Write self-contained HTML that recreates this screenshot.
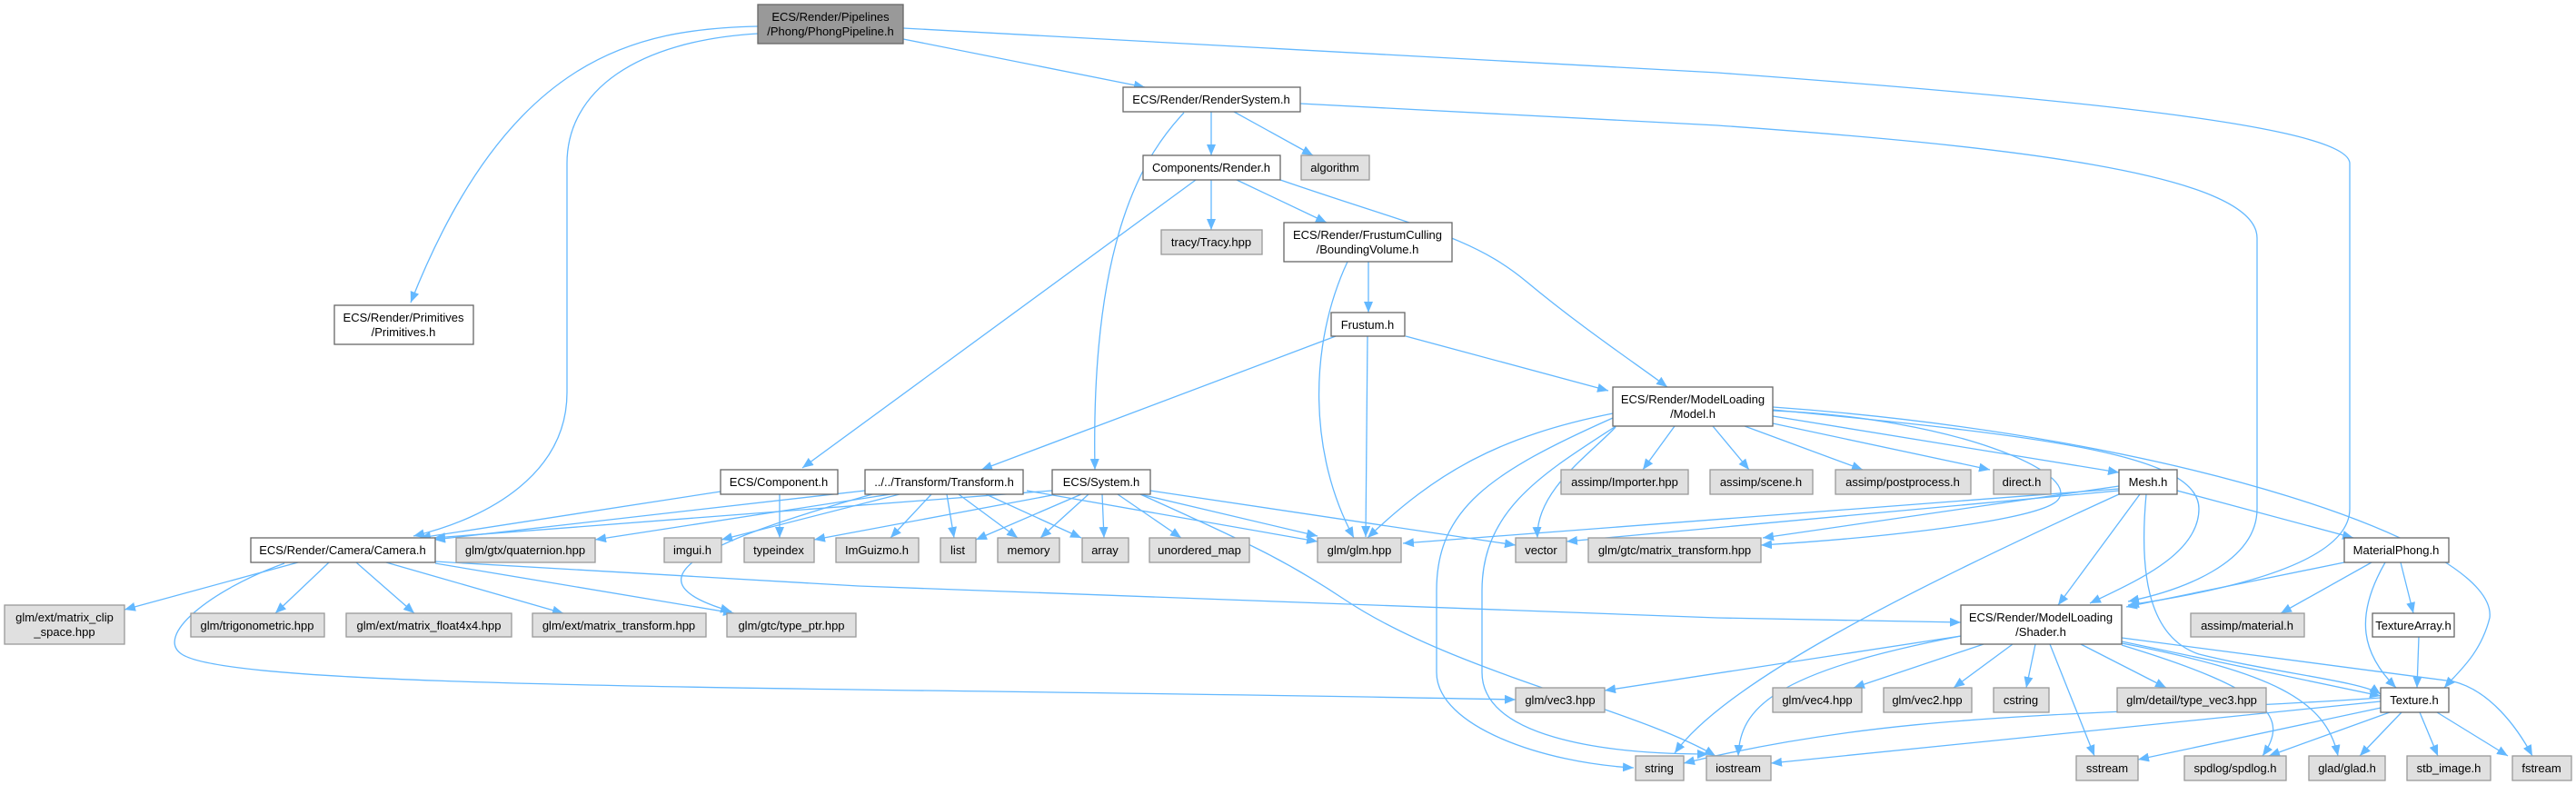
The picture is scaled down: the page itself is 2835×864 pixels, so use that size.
<!DOCTYPE html>
<html><head><meta charset="utf-8"><style>
html,body{margin:0;padding:0;background:#fff;}
svg{display:block;}
text{font-family:"Liberation Sans",Arial,sans-serif;font-size:13px;fill:#000;}
.n rect{stroke:#666;stroke-width:1.3;}
.w{fill:#fff;}
.g{fill:#e0e0e0;stroke:#999 !important;}
.e path{fill:none;stroke:#63b8ff;stroke-width:1.3;marker-end:url(#a);}
</style></head><body>
<svg width="2835" height="864" viewBox="0 0 2835 864" xmlns="http://www.w3.org/2000/svg">
<defs><marker id="a" markerUnits="userSpaceOnUse" markerWidth="14" markerHeight="10" refX="12" refY="5" orient="auto"><path d="M0,0 L12,5 L0,10 z" fill="#63b8ff"/></marker></defs>
<g class="e">
<path d="M834,29 C700,32 560,60 452,333"/>
<path d="M834,37 C700,45 624,100 624,180 L624,432 C624,520 540,570 455,590"/>
<path d="M994,43 L1260,96"/>
<path d="M994,31 L1890,80 C2300,110 2586,140 2586,180 L2586,560 C2586,620 2450,650 2342,666"/>
<path d="M1431,114 L1890,138 C2200,160 2484,190 2484,262 L2484,560 C2484,620 2400,650 2342,662"/>
<path d="M1333,123 L1333,171"/>
<path d="M1358,123 L1445,171"/>
<path d="M1303,124 C1260,170 1200,260 1205,517"/>
<path d="M1333,198 L1333,253"/>
<path d="M1361,198 L1460,245"/>
<path d="M1316,198 L883,515"/>
<path d="M1409,198 C1560,250 1620,260 1680,310 C1740,360 1800,400 1835,426"/>
<path d="M1506,288 L1506,344"/>
<path d="M1483,288 C1440,380 1440,500 1490,592"/>
<path d="M1505,370 L1503,591"/>
<path d="M1470,370 L1080,517"/>
<path d="M1547,370 L1770,430"/>
<path d="M793,541 L462,592"/>
<path d="M858,544 L858,592"/>
<path d="M952,540 L478,594"/>
<path d="M980,544 L655,594"/>
<path d="M990,544 L794,594"/>
<path d="M1025,544 L980,592"/>
<path d="M1042,544 L1050,592"/>
<path d="M1055,544 L1120,592"/>
<path d="M1085,544 L1190,592"/>
<path d="M1130,540 L1450,596"/>
<path d="M960,544 C760,600 690,640 805,673"/>
<path d="M1158,540 L478,592"/>
<path d="M1158,545 L896,594"/>
<path d="M1190,544 L1074,594"/>
<path d="M1198,544 L1145,592"/>
<path d="M1213,544 L1215,592"/>
<path d="M1230,544 L1300,592"/>
<path d="M1255,544 L1450,590"/>
<path d="M1266,540 L1668,600"/>
<path d="M1255,544 C1380,600 1420,620 1480,660 C1600,740 1800,780 1888,832"/>
<path d="M328,619 L137,671"/>
<path d="M362,619 L303,675"/>
<path d="M392,619 L456,675"/>
<path d="M425,619 L620,675"/>
<path d="M479,620 L808,675"/>
<path d="M479,618 L945,645 L1890,680 L2158,685"/>
<path d="M313,620 C230,650 170,700 200,720 C260,760 900,755 1668,770"/>
<path d="M1843,469 L1808,517"/>
<path d="M1885,469 L1925,517"/>
<path d="M1920,469 L2050,517"/>
<path d="M1951,466 L2190,517"/>
<path d="M1951,458 L2332,520"/>
<path d="M1778,470 C1750,500 1690,540 1692,592"/>
<path d="M1775,455 C1650,480 1580,520 1505,592"/>
<path d="M1775,460 C1640,520 1581,560 1581,650 L1581,740 C1581,800 1700,840 1798,845"/>
<path d="M1780,468 C1700,520 1631,560 1631,650 L1631,740 C1631,810 1760,830 1880,830"/>
<path d="M1951,452 C2150,460 2290,520 2265,550 C2250,570 2100,590 1938,600"/>
<path d="M1951,451 C2250,480 2420,500 2420,560 C2420,610 2350,640 2300,664"/>
<path d="M1951,448 C2400,480 2750,600 2740,680 C2730,720 2705,740 2690,757"/>
<path d="M2332,535 L1940,592"/>
<path d="M2332,538 L1544,598"/>
<path d="M2332,540 L1724,596"/>
<path d="M2355,544 L2265,666"/>
<path d="M2396,540 L2590,592"/>
<path d="M2332,544 C2100,650 1900,750 1843,829"/>
<path d="M2362,544 C2355,620 2360,700 2420,720 C2500,740 2600,750 2620,764"/>
<path d="M2580,619 L2340,668"/>
<path d="M2610,619 L2510,675"/>
<path d="M2625,619 C2590,680 2600,720 2637,757"/>
<path d="M2642,619 L2656,675"/>
<path d="M2662,701 L2660,757"/>
<path d="M2158,700 L1766,760"/>
<path d="M2183,709 L2040,757"/>
<path d="M2215,709 L2150,757"/>
<path d="M2240,709 L2230,757"/>
<path d="M2290,709 L2384,757"/>
<path d="M2256,709 L2305,832"/>
<path d="M2335,710 C2500,760 2520,790 2490,832"/>
<path d="M2335,708 C2500,740 2560,770 2573,832"/>
<path d="M2335,706 L2620,766"/>
<path d="M2335,702 L2700,750 C2740,760 2770,800 2787,832"/>
<path d="M2158,700 C1950,740 1915,780 1913,832"/>
<path d="M2620,772 L1949,840"/>
<path d="M2620,768 C2300,790 2100,780 1853,840"/>
<path d="M2625,778 L2353,836"/>
<path d="M2630,784 L2497,832"/>
<path d="M2643,784 L2597,832"/>
<path d="M2663,784 L2683,832"/>
<path d="M2682,784 L2760,832"/>
</g>
<g class="n" text-anchor="middle">
<rect x="834" y="5" width="160" height="43" fill="#999"/><text x="914" y="23">ECS/Render/Pipelines</text><text x="914" y="39">/Phong/PhongPipeline.h</text>
<rect class="w" x="368" y="336" width="153" height="43"/><text x="444" y="354">ECS/Render/Primitives</text><text x="444" y="370">/Primitives.h</text>
<rect class="w" x="1236" y="96" width="195" height="27"/><text x="1333" y="114">ECS/Render/RenderSystem.h</text>
<rect class="w" x="1258" y="171" width="151" height="27"/><text x="1333" y="189">Components/Render.h</text>
<rect class="g" x="1432" y="171" width="75" height="27"/><text x="1469" y="189">algorithm</text>
<rect class="g" x="1278" y="253" width="111" height="27"/><text x="1333" y="271">tracy/Tracy.hpp</text>
<rect class="w" x="1413" y="245" width="185" height="43"/><text x="1505" y="263">ECS/Render/FrustumCulling</text><text x="1505" y="279">/BoundingVolume.h</text>
<rect class="w" x="1465" y="344" width="81" height="26"/><text x="1505" y="362">Frustum.h</text>
<rect class="w" x="1775" y="426" width="176" height="43"/><text x="1863" y="444">ECS/Render/ModelLoading</text><text x="1863" y="460">/Model.h</text>
<rect class="w" x="793" y="517" width="129" height="27"/><text x="857" y="535">ECS/Component.h</text>
<rect class="w" x="952" y="517" width="174" height="27"/><text x="1039" y="535">../../Transform/Transform.h</text>
<rect class="w" x="1158" y="517" width="108" height="27"/><text x="1212" y="535">ECS/System.h</text>
<rect class="g" x="1718" y="517" width="140" height="27"/><text x="1788" y="535">assimp/Importer.hpp</text>
<rect class="g" x="1882" y="517" width="113" height="27"/><text x="1938" y="535">assimp/scene.h</text>
<rect class="g" x="2020" y="517" width="149" height="27"/><text x="2094" y="535">assimp/postprocess.h</text>
<rect class="g" x="2194" y="517" width="63" height="27"/><text x="2225" y="535">direct.h</text>
<rect class="w" x="2332" y="517" width="64" height="27"/><text x="2364" y="535">Mesh.h</text>
<rect class="w" x="276" y="592" width="203" height="27"/><text x="377" y="610">ECS/Render/Camera/Camera.h</text>
<rect class="g" x="502" y="592" width="153" height="27"/><text x="578" y="610">glm/gtx/quaternion.hpp</text>
<rect class="g" x="731" y="592" width="63" height="27"/><text x="762" y="610">imgui.h</text>
<rect class="g" x="819" y="592" width="77" height="27"/><text x="857" y="610">typeindex</text>
<rect class="g" x="920" y="592" width="91" height="27"/><text x="965" y="610">ImGuizmo.h</text>
<rect class="g" x="1035" y="592" width="39" height="27"/><text x="1054" y="610">list</text>
<rect class="g" x="1098" y="592" width="68" height="27"/><text x="1132" y="610">memory</text>
<rect class="g" x="1191" y="592" width="51" height="27"/><text x="1216" y="610">array</text>
<rect class="g" x="1265" y="592" width="110" height="27"/><text x="1320" y="610">unordered_map</text>
<rect class="g" x="1450" y="592" width="92" height="27"/><text x="1496" y="610">glm/glm.hpp</text>
<rect class="g" x="1668" y="592" width="56" height="27"/><text x="1696" y="610">vector</text>
<rect class="g" x="1748" y="592" width="190" height="27"/><text x="1843" y="610">glm/gtc/matrix_transform.hpp</text>
<rect class="w" x="2580" y="592" width="115" height="27"/><text x="2637" y="610">MaterialPhong.h</text>
<rect class="g" x="5" y="666" width="132" height="43"/><text x="71" y="684">glm/ext/matrix_clip</text><text x="71" y="700">_space.hpp</text>
<rect class="g" x="210" y="675" width="147" height="26"/><text x="283" y="693">glm/trigonometric.hpp</text>
<rect class="g" x="381" y="675" width="182" height="26"/><text x="472" y="693">glm/ext/matrix_float4x4.hpp</text>
<rect class="g" x="586" y="675" width="191" height="26"/><text x="681" y="693">glm/ext/matrix_transform.hpp</text>
<rect class="g" x="800" y="675" width="142" height="26"/><text x="871" y="693">glm/gtc/type_ptr.hpp</text>
<rect class="w" x="2158" y="666" width="177" height="43"/><text x="2246" y="684">ECS/Render/ModelLoading</text><text x="2246" y="700">/Shader.h</text>
<rect class="g" x="2411" y="675" width="125" height="26"/><text x="2473" y="693">assimp/material.h</text>
<rect class="w" x="2611" y="675" width="90" height="26"/><text x="2656" y="693">TextureArray.h</text>
<rect class="g" x="1668" y="757" width="98" height="27"/><text x="1717" y="775">glm/vec3.hpp</text>
<rect class="g" x="1951" y="757" width="98" height="27"/><text x="2000" y="775">glm/vec4.hpp</text>
<rect class="g" x="2073" y="757" width="97" height="27"/><text x="2121" y="775">glm/vec2.hpp</text>
<rect class="g" x="2194" y="757" width="61" height="27"/><text x="2224" y="775">cstring</text>
<rect class="g" x="2330" y="757" width="164" height="27"/><text x="2412" y="775">glm/detail/type_vec3.hpp</text>
<rect class="w" x="2620" y="757" width="75" height="27"/><text x="2657" y="775">Texture.h</text>
<rect class="g" x="1800" y="832" width="53" height="27"/><text x="1826" y="850">string</text>
<rect class="g" x="1878" y="832" width="71" height="27"/><text x="1913" y="850">iostream</text>
<rect class="g" x="2285" y="832" width="68" height="27"/><text x="2319" y="850">sstream</text>
<rect class="g" x="2404" y="832" width="112" height="27"/><text x="2460" y="850">spdlog/spdlog.h</text>
<rect class="g" x="2541" y="832" width="84" height="27"/><text x="2583" y="850">glad/glad.h</text>
<rect class="g" x="2649" y="832" width="92" height="27"/><text x="2695" y="850">stb_image.h</text>
<rect class="g" x="2765" y="832" width="65" height="27"/><text x="2797" y="850">fstream</text>
</g>
</svg>
</body></html>
